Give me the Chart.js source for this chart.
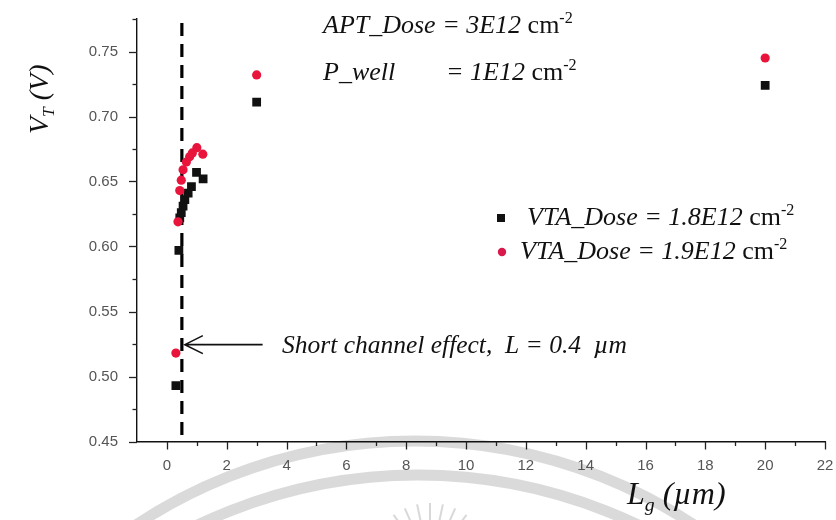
<!DOCTYPE html>
<html>
<head>
<meta charset="utf-8">
<script src="https://cdn.jsdelivr.net/npm/chart.js@4.4.1/dist/chart.umd.min.js"></script>
<style>
  html, body { margin: 0; padding: 0; background: #fff; }
  #wrap { width: 836px; height: 520px; }
</style>
</head>
<body>
<div id="wrap"><canvas id="vtChart" width="836" height="520"></canvas></div>
<script>
// --- data: threshold voltage vs gate length ---
const lgBlack = [0.3, 0.4, 0.43, 0.48, 0.54, 0.6, 0.71, 0.82, 0.99, 1.21, 3, 20];
const vtBlack = [0.493, 0.597, 0.622, 0.626, 0.631, 0.636, 0.641, 0.646, 0.657, 0.652, 0.711, 0.724];
const lgRed = [0.3, 0.37, 0.43, 0.48, 0.54, 0.65, 0.76, 0.85, 1.0, 1.2, 3, 20];
const vtRed = [0.518, 0.619, 0.643, 0.651, 0.659, 0.665, 0.669, 0.672, 0.676, 0.671, 0.732, 0.745];
const xTicks = [0, 2, 4, 6, 8, 10, 12, 14, 16, 18, 20, 22];
const yTicks = [0.45, 0.50, 0.55, 0.60, 0.65, 0.70, 0.75];
const cutoffL = 0.5;   // dashed marker line
const shortL = 0.4;    // short channel length in the note

const serif = '"Liberation Serif", "Times New Roman", serif';
const sans = '"Liberation Sans", Arial, sans-serif';

const toPoints = (xs, ys) => xs.map((x, i) => ({ x: x, y: ys[i] }));

// draws a run of text pieces; pieces can be sub/superscript or upright
function drawRich(ctx, x, y, parts, size) {
    let cx = x;
    parts.forEach(p => {
        const s = (p.sub || p.sup) ? size * 0.62 : size;
        const style = p.upright ? '' : 'italic ';
        ctx.font = style + s + 'px ' + serif;
        let dy = 0;
        if (p.sub) dy = size * 0.22;
        if (p.sup) dy = -size * 0.38;
        ctx.fillText(p.t, cx, y + dy);
        cx += ctx.measureText(p.t).width;
    });
    return cx;
}

// pale arcs behind the plot
const backdrop = {
    id: 'backdrop',
    beforeDraw(chart) {
        const ctx = chart.ctx;
        ctx.save();
        ctx.fillStyle = '#fff';
        ctx.fillRect(0, 0, chart.width, chart.height);
        ctx.strokeStyle = 'rgba(205,205,205,0.75)';
        ctx.lineWidth = 11;
        ctx.beginPath();
        ctx.arc(415, 946, 505, Math.PI, 2 * Math.PI);
        ctx.stroke();
        ctx.beginPath();
        ctx.arc(418, 985, 510, Math.PI, 2 * Math.PI);
        ctx.stroke();
        ctx.lineWidth = 2;
        ctx.strokeStyle = 'rgba(200,200,200,0.7)';
        for (let a = -150; a <= -30; a += 12) {
            const r = a * Math.PI / 180;
            ctx.beginPath();
            ctx.moveTo(430 + Math.cos(r) * 42, 565 + Math.sin(r) * 42);
            ctx.lineTo(430 + Math.cos(r) * 62, 565 + Math.sin(r) * 62);
            ctx.stroke();
        }
        ctx.restore();
    }
};

// outward major/minor ticks, axis titles and notes
const decorations = {
    id: 'decorations',
    afterDraw(chart) {
        const ctx = chart.ctx;
        const xs = chart.scales.x;
        const ys = chart.scales.y;
        const area = chart.chartArea;
        ctx.save();
        ctx.strokeStyle = '#222';
        ctx.lineWidth = 1.3;
        for (let v = 0; v <= 22; v += 1) {
            const px = Math.round(xs.getPixelForValue(v)) + 0.5;
            const len = v % 2 === 0 ? 8 : 4.5;
            ctx.beginPath();
            ctx.moveTo(px, area.bottom);
            ctx.lineTo(px, area.bottom + len);
            ctx.stroke();
        }
        for (let i = 0; i <= 13; i++) {
            const v = 0.45 + i * 0.025;
            const py = Math.round(ys.getPixelForValue(v)) + 0.5;
            const len = i % 2 === 0 ? 8 : 4.5;
            ctx.beginPath();
            ctx.moveTo(area.left, py);
            ctx.lineTo(area.left - len, py);
            ctx.stroke();
        }

        ctx.fillStyle = '#111';
        ctx.textBaseline = 'alphabetic';
        ctx.textAlign = 'left';

        // y axis title
        ctx.save();
        ctx.translate(48, 134);
        ctx.rotate(-Math.PI / 2);
        drawRich(ctx, 0, 0, [{ t: 'V' }, { t: 'T', sub: true }, { t: ' (V)' }], 28);
        ctx.restore();

        // x axis title
        drawRich(ctx, 627, 504, [{ t: 'L' }, { t: 'g', sub: true }, { t: ' (\u00b5m)' }], 32);

        // process conditions
        drawRich(ctx, 323, 33, [{ t: 'APT_Dose = 3E12 ' }, { t: 'cm', upright: true }, { t: '-2', sup: true, upright: true }], 26);
        drawRich(ctx, 323, 80, [{ t: 'P_well' }], 26);
        drawRich(ctx, 446, 80, [{ t: '= 1E12 ' }, { t: 'cm', upright: true }, { t: '-2', sup: true, upright: true }], 26);

        // legend
        ctx.fillStyle = '#111';
        ctx.fillRect(497, 214, 8, 8);
        drawRich(ctx, 527, 225, [{ t: 'VTA_Dose = 1.8E12 ' }, { t: 'cm', upright: true }, { t: '-2', sup: true, upright: true }], 26);
        ctx.fillStyle = '#d9184c';
        ctx.beginPath();
        ctx.arc(502, 252, 4.2, 0, 2 * Math.PI);
        ctx.fill();
        ctx.fillStyle = '#111';
        drawRich(ctx, 520, 259, [{ t: 'VTA_Dose = 1.9E12 ' }, { t: 'cm', upright: true }, { t: '-2', sup: true, upright: true }], 26);

        // short channel arrow
        const ay = ys.getPixelForValue(0.5245);
        const tipX = xs.getPixelForValue(0.6);
        const tailX = xs.getPixelForValue(3.2);
        ctx.strokeStyle = '#111';
        ctx.lineWidth = 1.6;
        ctx.beginPath();
        ctx.moveTo(tailX, ay);
        ctx.lineTo(tipX, ay);
        ctx.moveTo(tipX + 18, ay - 9);
        ctx.lineTo(tipX, ay);
        ctx.lineTo(tipX + 18, ay + 9);
        ctx.stroke();
        drawRich(ctx, 282, ay + 8, [{ t: 'Short channel effect,  L = ' + shortL + '  \u00b5m' }], 25.5);
        ctx.restore();
    }
};

const ctx = document.getElementById('vtChart');
new Chart(ctx, {
    type: 'scatter',
    data: {
        datasets: [
            {
                label: 'VTA_Dose = 1.9E12',
                data: toPoints(lgRed, vtRed),
                pointStyle: 'circle',
                pointRadius: 4.6,
                backgroundColor: '#e8143c',
                borderWidth: 0,
                order: 0
            },
            {
                label: 'VTA_Dose = 1.8E12',
                data: toPoints(lgBlack, vtBlack),
                pointStyle: 'rect',
                pointRadius: 6.2,
                backgroundColor: '#111',
                borderWidth: 0,
                order: 1
            },
            {
                type: 'line',
                label: 'L cutoff',
                data: [{ x: cutoffL, y: 0.772 }, { x: cutoffL, y: 0.454 }],
                borderColor: '#000',
                borderWidth: 3.2,
                borderDash: [13, 8],
                pointRadius: 0,
                showLine: true,
                order: 2
            }
        ]
    },
    options: {
        responsive: false,
        animation: false,
        layout: { padding: { top: 19, right: 11, left: 0, bottom: 0 } },
        plugins: {
            legend: { display: false },
            tooltip: { enabled: false }
        },
        scales: {
            x: {
                type: 'linear',
                min: -1,
                max: 22,
                afterFit: (scale) => {
                    scale.height = 78.5;
                    scale.paddingLeft = 0;
                    scale.paddingRight = 0;
                },
                afterBuildTicks: (scale) => { scale.ticks = xTicks.map(v => ({ value: v })); },
                grid: { display: false, drawTicks: false },
                border: { display: true, color: '#111', width: 1.4 },
                ticks: {
                    padding: 15,
                    color: '#555',
                    font: { family: sans, size: 15 },
                    maxRotation: 0,
                    callback: (v) => String(v)
                }
            },
            y: {
                type: 'linear',
                min: 0.45,
                max: 0.775,
                afterFit: (scale) => {
                    scale.width = 137;
                    scale.paddingTop = 0;
                    scale.paddingBottom = 0;
                },
                afterBuildTicks: (scale) => { scale.ticks = yTicks.map(v => ({ value: v })); },
                grid: { display: false, drawTicks: false },
                border: { display: true, color: '#111', width: 1.4 },
                ticks: {
                    padding: 19,
                    color: '#555',
                    font: { family: sans, size: 15 },
                    callback: (v) => Number(v).toFixed(2)
                }
            }
        }
    },
    plugins: [backdrop, decorations]
});
</script>
</body>
</html>
